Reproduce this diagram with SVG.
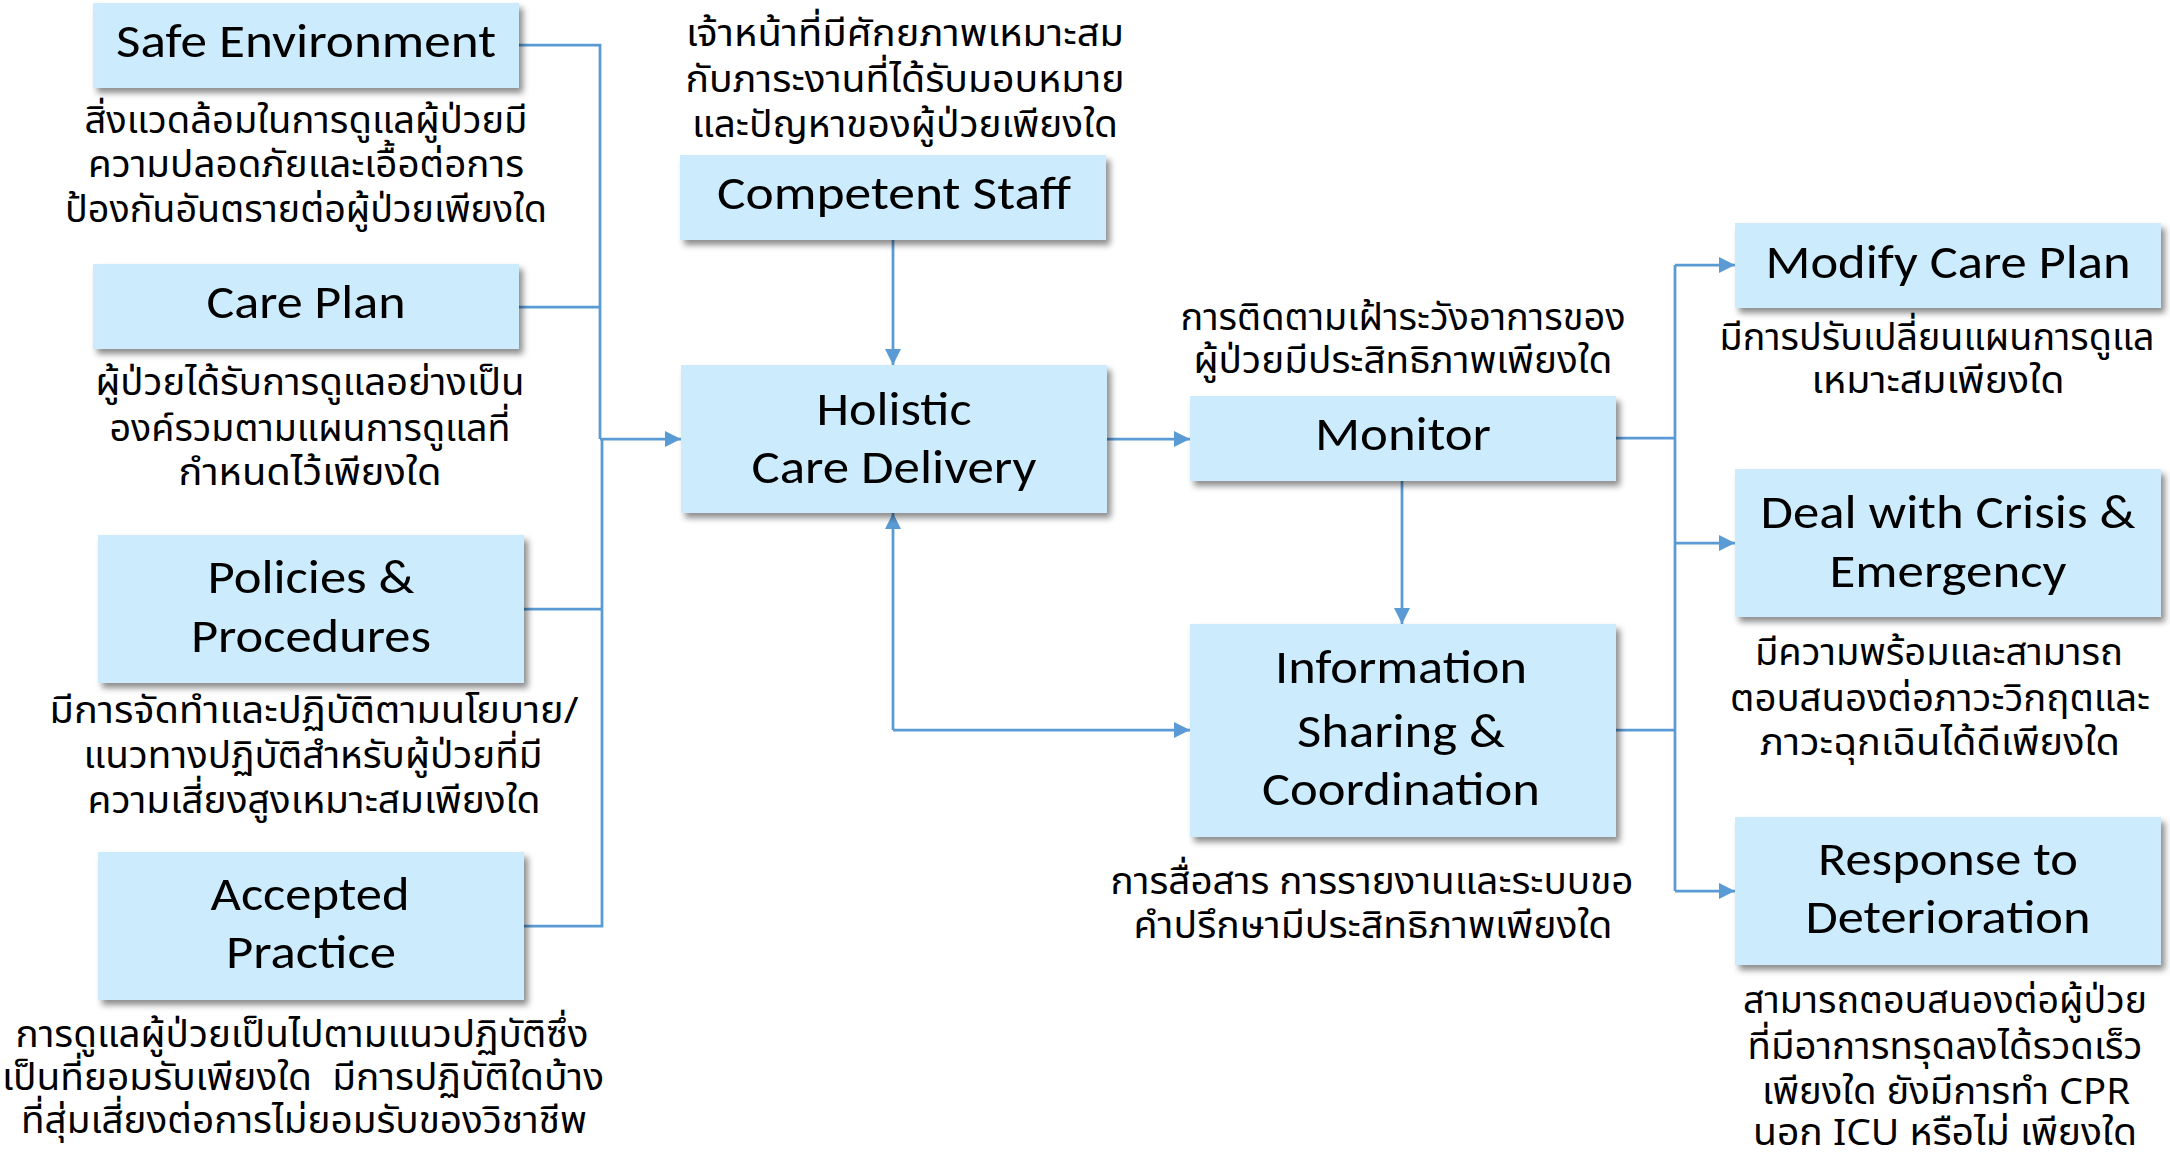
<svg xmlns="http://www.w3.org/2000/svg" width="2170" height="1153" viewBox="0 0 2170 1153">
<defs>
<filter id="sh" x="-10%" y="-10%" width="125%" height="135%">
<feDropShadow dx="4" dy="5" stdDeviation="3" flood-color="#000" flood-opacity="0.45"/>
</filter>
<marker id="ah" markerUnits="userSpaceOnUse" markerWidth="18" markerHeight="16" refX="16" refY="8" orient="auto">
<path d="M0,0 L16,8 L0,16 Z" fill="#5B9BD5"/>
</marker>
</defs>
<style>
.box{fill:#CCEBFC;filter:url(#sh);}
.t{font-family:Carlito,Lato,"Liberation Sans",sans-serif;font-size:47px;fill:#000;text-anchor:middle;}
.th{font-family:"Noto Sans Thai",Tahoma,"Noto Sans","DejaVu Sans",sans-serif;font-size:37px;fill:#000;text-anchor:middle;}
.c{fill:none;stroke:#5B9BD5;stroke-width:2.75;}
.a{marker-end:url(#ah);}
</style>
<rect width="2170" height="1153" fill="#fff"/>

<g id="connectors">
<path class="c" d="M519,45 H600 V439"/>
<path class="c" d="M519,307 H600"/>
<path class="c" d="M524,609 H602"/>
<path class="c" d="M524,926 H602 V439"/>
<path class="c a" d="M600,439 H681"/>
<path class="c a" d="M893,240 V365"/>
<path class="c a" d="M1107,439 H1190"/>
<path class="c a" d="M1402,481 V624"/>
<path class="c a" d="M893,730 H1190"/>
<path class="c a" d="M893,730 V513"/>
<path class="c" d="M1616,438 H1675"/>
<path class="c" d="M1616,730 H1675"/>
<path class="c" d="M1675,265 V891"/>
<path class="c a" d="M1675,265 H1735"/>
<path class="c a" d="M1675,543 H1735"/>
<path class="c a" d="M1675,891 H1735"/>
</g>

<g id="safe-environment">
<rect class="box" x="93" y="3" width="426" height="85"/>
<text class="t" x="306" y="57" textLength="380" lengthAdjust="spacingAndGlyphs">Safe Environment</text>
<text class="th" x="306" y="133" textLength="443" lengthAdjust="spacingAndGlyphs">สิ่งแวดล้อมในการดูแลผู้ป่วยมี</text>
<text class="th" x="306" y="177" textLength="436" lengthAdjust="spacingAndGlyphs">ความปลอดภัยและเอื้อต่อการ</text>
<text class="th" x="306" y="222" textLength="482" lengthAdjust="spacingAndGlyphs">ป้องกันอันตรายต่อผู้ป่วยเพียงใด</text>
</g>

<g id="care-plan">
<rect class="box" x="93" y="264" width="426" height="85"/>
<text class="t" x="306" y="318" textLength="199" lengthAdjust="spacingAndGlyphs">Care Plan</text>
<text class="th" x="310" y="395" textLength="429" lengthAdjust="spacingAndGlyphs">ผู้ป่วยได้รับการดูแลอย่างเป็น</text>
<text class="th" x="310" y="441" textLength="401" lengthAdjust="spacingAndGlyphs">องค์รวมตามแผนการดูแลที่</text>
<text class="th" x="310" y="485" textLength="263" lengthAdjust="spacingAndGlyphs">กำหนดไว้เพียงใด</text>
</g>

<g id="policies-procedures">
<rect class="box" x="98" y="535" width="426" height="148"/>
<text class="t" x="311" y="593" textLength="207" lengthAdjust="spacingAndGlyphs">Policies &amp;</text>
<text class="t" x="311" y="652" textLength="240" lengthAdjust="spacingAndGlyphs">Procedures</text>
<text class="th" x="314" y="723" textLength="529" lengthAdjust="spacingAndGlyphs">มีการจัดทำและปฏิบัติตามนโยบาย/</text>
<text class="th" x="313" y="768" textLength="459" lengthAdjust="spacingAndGlyphs">แนวทางปฏิบัติสำหรับผู้ป่วยที่มี</text>
<text class="th" x="314" y="813" textLength="453" lengthAdjust="spacingAndGlyphs">ความเสี่ยงสูงเหมาะสมเพียงใด</text>
</g>

<g id="accepted-practice">
<rect class="box" x="98" y="852" width="426" height="148"/>
<text class="t" x="310" y="910" textLength="199" lengthAdjust="spacingAndGlyphs">Accepted</text>
<text class="t" x="311" y="968" textLength="170" lengthAdjust="spacingAndGlyphs">Practice</text>
<text class="th" x="302" y="1047" textLength="573" lengthAdjust="spacingAndGlyphs">การดูแลผู้ป่วยเป็นไปตามแนวปฏิบัติซึ่ง</text>
<text class="th" x="303" y="1090" textLength="602" lengthAdjust="spacingAndGlyphs" xml:space="preserve" style="white-space:pre">เป็นที่ยอมรับเพียงใด  มีการปฏิบัติใดบ้าง</text>
<text class="th" x="304" y="1133" textLength="566" lengthAdjust="spacingAndGlyphs">ที่สุ่มเสี่ยงต่อการไม่ยอมรับของวิชาชีพ</text>
</g>

<g id="competent-staff">
<text class="th" x="905" y="46" textLength="438" lengthAdjust="spacingAndGlyphs">เจ้าหน้าที่มีศักยภาพเหมาะสม</text>
<text class="th" x="905" y="92" textLength="439" lengthAdjust="spacingAndGlyphs">กับภาระงานที่ได้รับมอบหมาย</text>
<text class="th" x="905" y="137" textLength="426" lengthAdjust="spacingAndGlyphs">และปัญหาของผู้ป่วยเพียงใด</text>
<rect class="box" x="680" y="155" width="426" height="85"/>
<text class="t" x="894" y="209" textLength="354" lengthAdjust="spacingAndGlyphs">Competent Staff</text>
</g>

<g id="holistic-care-delivery">
<rect class="box" x="681" y="365" width="426" height="148"/>
<text class="t" x="894" y="425" textLength="155" lengthAdjust="spacingAndGlyphs">Holistic</text>
<text class="t" x="894" y="483" textLength="285" lengthAdjust="spacingAndGlyphs">Care Delivery</text>
</g>

<g id="monitor">
<text class="th" x="1403" y="330" textLength="445" lengthAdjust="spacingAndGlyphs">การติดตามเฝ้าระวังอาการของ</text>
<text class="th" x="1403" y="373" textLength="419" lengthAdjust="spacingAndGlyphs">ผู้ป่วยมีประสิทธิภาพเพียงใด</text>
<rect class="box" x="1190" y="396" width="426" height="85"/>
<text class="t" x="1403" y="450" textLength="176" lengthAdjust="spacingAndGlyphs">Monitor</text>
</g>

<g id="information-sharing">
<rect class="box" x="1190" y="624" width="426" height="213"/>
<text class="t" x="1401" y="683" textLength="252" lengthAdjust="spacingAndGlyphs">Information</text>
<text class="t" x="1401" y="747" textLength="208" lengthAdjust="spacingAndGlyphs">Sharing &amp;</text>
<text class="t" x="1401" y="805" textLength="278" lengthAdjust="spacingAndGlyphs">Coordination</text>
<text class="th" x="1372" y="894" textLength="523" lengthAdjust="spacingAndGlyphs">การสื่อสาร การรายงานและระบบขอ</text>
<text class="th" x="1373" y="938" textLength="479" lengthAdjust="spacingAndGlyphs">คำปรึกษามีประสิทธิภาพเพียงใด</text>
</g>

<g id="modify-care-plan">
<rect class="box" x="1735" y="223" width="426" height="85"/>
<text class="t" x="1948" y="278" textLength="365" lengthAdjust="spacingAndGlyphs">Modify Care Plan</text>
<text class="th" x="1937" y="350" textLength="435" lengthAdjust="spacingAndGlyphs">มีการปรับเปลี่ยนแผนการดูแล</text>
<text class="th" x="1938" y="393" textLength="253" lengthAdjust="spacingAndGlyphs">เหมาะสมเพียงใด</text>
</g>

<g id="deal-with-crisis">
<rect class="box" x="1735" y="469" width="426" height="148"/>
<text class="t" x="1948" y="528" textLength="375" lengthAdjust="spacingAndGlyphs">Deal with Crisis &amp;</text>
<text class="t" x="1948" y="587" textLength="237" lengthAdjust="spacingAndGlyphs">Emergency</text>
<text class="th" x="1939" y="665" textLength="368" lengthAdjust="spacingAndGlyphs">มีความพร้อมและสามารถ</text>
<text class="th" x="1940" y="711" textLength="420" lengthAdjust="spacingAndGlyphs">ตอบสนองต่อภาวะวิกฤตและ</text>
<text class="th" x="1940" y="755" textLength="360" lengthAdjust="spacingAndGlyphs">ภาวะฉุกเฉินได้ดีเพียงใด</text>
</g>

<g id="response-to-deterioration">
<rect class="box" x="1735" y="817" width="426" height="148"/>
<text class="t" x="1948" y="875" textLength="260" lengthAdjust="spacingAndGlyphs">Response to</text>
<text class="t" x="1948" y="933" textLength="285" lengthAdjust="spacingAndGlyphs">Deterioration</text>
<text class="th" x="1945" y="1013" textLength="404" lengthAdjust="spacingAndGlyphs">สามารถตอบสนองต่อผู้ป่วย</text>
<text class="th" x="1945" y="1059" textLength="395" lengthAdjust="spacingAndGlyphs">ที่มีอาการทรุดลงได้รวดเร็ว</text>
<text class="th" x="1946" y="1104" textLength="368" lengthAdjust="spacingAndGlyphs">เพียงใด ยังมีการทำ CPR</text>
<text class="th" x="1945" y="1145" textLength="384" lengthAdjust="spacingAndGlyphs">นอก ICU หรือไม่ เพียงใด</text>
</g>
</svg>
